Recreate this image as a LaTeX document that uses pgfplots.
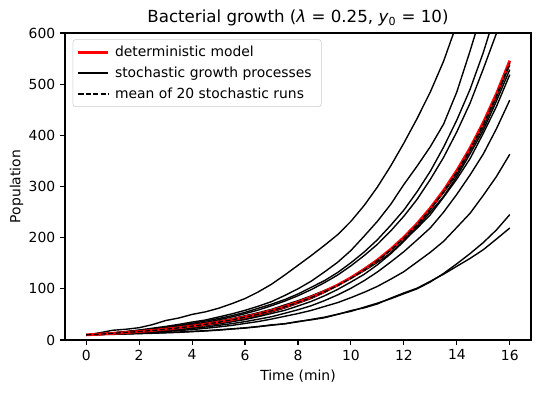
\documentclass[border=0pt]{standalone}
\usepackage{pgfplots}
\pgfplotsset{compat=1.18}
\usepackage{pgfplotstable}
\usepackage{fontspec}
\setmainfont{DejaVu Sans}
\pgfplotstableread{
t det A B C D E F G I J K L M
0 10.00 10 10 10 10 10 10 10 10 10 10 10 10
0.5 11.33 14 12 11.8 11.5 11.1 11.7 11.0 10.9 10.8 10.5 10.8 11.3
1 12.84 19 14 13.8 13.5 12.2 13.6 12.8 11.9 11.6 11.0 11.6 13.0
1.5 14.55 21 16.5 16.2 15.5 13.5 15.7 15.1 13.1 12.5 11.6 12.2 14.7
2 16.49 24 19.5 18.8 18 15.2 18.1 16.8 14.5 13.7 12.4 12.9 16.5
2.5 18.68 30 23 21.5 20.5 16.8 20.5 18.3 16.3 14.9 13.1 13.6 18.6
3 21.17 38 26.5 24.8 23.5 19.1 22.9 20.3 18.0 16.5 14.0 14.6 21.0
3.5 23.99 43 30.5 28.5 27 21.8 25.7 22.8 20.2 18.5 14.9 15.6 23.8
4 27.18 50 35 32.5 30.5 25.0 28.8 25.3 22.6 20.4 16.3 16.9 27.0
4.5 30.80 55 39 37 34.5 28.3 33.0 28.3 25.3 22.8 17.6 18.2 30.6
5 34.90 62 45 42 39.5 32.5 37.0 31.4 28.6 25.5 19.2 19.9 34.7
5.5 39.55 71 51 47.5 45 36.4 41.5 35.6 32.0 28.5 21.4 21.8 39.3
6 44.82 81 58 54 51.5 41.7 47.5 39.9 35.9 32.3 23.3 23.8 44.6
6.5 50.78 94 66 62 58.5 47.7 53.3 45.7 40.6 36.1 25.9 26.4 50.5
7 57.55 109 75 70 67 54.7 59.9 51.8 45.5 40.9 28.8 29.6 57.2
7.5 65.21 127 87 79 76 62.6 68.5 58.0 52.2 46.3 32.0 31.4 64.8
8 73.89 146 100 90 86.5 71.7 76.8 66.5 59.1 51.7 35.5 36.3 73.3
8.5 83.73 165 115 103 98.5 81.2 86.2 75.4 67.0 57.8 40.2 39.4 83.0
9 94.88 185 133 116 112 93.0 96.8 86.3 76.9 65.5 44.6 43.5 94.1
9.5 107.51 206 152 132 127 106.4 107.5 98.9 88.2 73.1 50.5 50.0 106.5
10 121.82 232 175 151 145 121.8 120.6 113.3 101.1 82.8 56.0 57.5 120.6
10.5 138.04 263 203 172 165 139.4 135.3 128.4 116.0 93.2 64.2 62.8 136.8
11 156.43 299 232 196 187 156.4 151.7 147.0 133.0 104.8 72.0 70.5 155.0
11.5 177.25 340 265 224 213 175.5 170.2 168.4 152.4 118.8 80.6 81.8 175.5
12 200.86 385 304 254 242 198.9 194.8 192.8 172.7 133.6 90.4 92.0 198.9
12.5 227.60 433 340 290 275 223.0 218.5 220.8 195.7 152.5 100.1 101.3 225.5
13 257.91 485 378 330 314 255.3 245.0 250.2 219.2 171.5 113.5 114.8 255.4
13.5 292.25 545 422 377 357 287.9 279.1 280.6 249.9 192.9 130.1 128.6 289.9
14 331.16 618 485 430 407 324.5 314.6 319.6 284.8 220.2 149.0 144.1 328.5
14.5 375.25 700 565 490 463 369.6 354.6 364.0 322.7 247.7 168.9 159.5 372.1
15 425.21 790 650 562 530 416.7 404.0 410.3 363.6 282.8 190.5 176.5 421.7
15.5 481.83 890 740 645 600 474.6 456.8 467.4 413.4 319.9 215.4 197.5 477.8
16 545.98 1000 840 735 680 537.8 518.7 528.5 469.0 363.1 245.1 218.9 541.5
}\data
\begin{document}
\begin{tikzpicture}
\begin{axis}[
  scale only axis, width=335.5pt, height=221pt,
  xmin=-0.8, xmax=16.8, ymin=0, ymax=600,
  xtick={0,2,...,16}, ytick={0,100,...,600},
  tick align=outside, tick pos=left,
  major tick length=3.5pt,
  every tick/.style={black, line width=0.8pt},
  axis line style={line width=0.8pt},
  /pgf/number format/assume math mode=true,
  ticklabel style={font=\fontsize{10}{12}\selectfont},
  label style={font=\fontsize{10}{12}\selectfont},
  ylabel shift=-3pt,
  title style={font=\fontsize{12}{14}\selectfont, yshift=-4.5pt},
  title={Bacterial growth (\textit{λ} = 0.25, \textit{y}\textsubscript{0} = 10)},
  xlabel={Time (min)}, ylabel={Population},
  legend cell align=left,
  legend style={at={(0,1)}, anchor=north west, xshift=5.5pt, yshift=-4.5pt,
    draw=black!20, rounded corners=2pt, inner xsep=3pt, inner ysep=2.5pt,
    row sep=2pt, font=\fontsize{10}{12}\selectfont,
    nodes={inner xsep=4pt}},
  legend image code/.code={\draw[#1] (0cm,0cm) -- (0.75cm,0cm);},
]
\addlegendimage{red, line width=2pt}
\addlegendentry{deterministic model}
\addlegendimage{black, line width=1pt}
\addlegendentry{stochastic growth processes}
\addlegendimage{black, line width=1pt, dash pattern=on 3.7pt off 1.6pt}
\addlegendentry{mean of 20 stochastic runs}
\foreach \c in {A,B,C,D,E,F,G,I,J,K,L} {
  \addplot[black, line width=1pt, forget plot] table[x=t, y=\c] {\data};
}
\addplot[red, line width=2pt, forget plot] table[x=t, y=det] {\data};
\addplot[black, line width=1pt, dash pattern=on 3.7pt off 1.6pt, forget plot] table[x=t, y=M] {\data};
\end{axis}
\path ([xshift=-46.8pt,yshift=-38.2pt]current axis.south west) rectangle ([xshift=6.5pt,yshift=23.8pt]current axis.north east);
\end{tikzpicture}
\end{document}
